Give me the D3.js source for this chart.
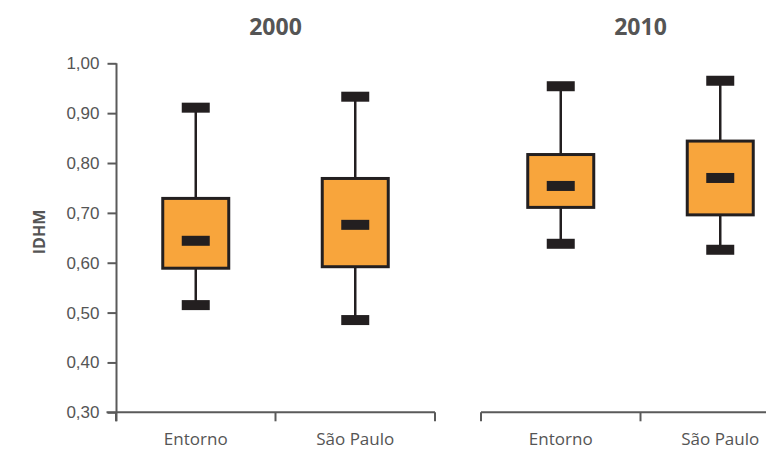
<!DOCTYPE html>
<html>
<head>
<meta charset="utf-8">
<script src="https://cdn.jsdelivr.net/npm/d3@7"></script>
<style>
  html, body { margin: 0; padding: 0; background: #fff; }
  svg { display: block; font-family: "Open Sans", "Noto Sans", sans-serif; }
</style>
</head>
<body>
<svg id="chart" width="766" height="450"></svg>
<script>
// IDHM distribution by area, 2000 and 2010
const years = ["2000", "2010"];
const categories = ["Entorno", "São Paulo"];
const lowWhisker  = [[0.515, 0.485], [0.638, 0.626]];
const q1          = [[0.589, 0.592], [0.711, 0.696]];
const median      = [[0.644, 0.676], [0.754, 0.770]];
const q3          = [[0.729, 0.769], [0.817, 0.844]];
const highWhisker = [[0.911, 0.933], [0.954, 0.965]];
const yTicks = [0.30, 0.40, 0.50, 0.60, 0.70, 0.80, 0.90, 1.00];

const svg = d3.select("#chart");
const axisColor = "#5a5a5a";
const textColor = "#555";
const ink = "#231f20";
const boxFill = "#f8a53c";

const y = d3.scaleLinear().domain([0.30, 1.00]).range([412.3, 63.3]);
const panelRanges = [[116, 435], [481, 800]];
const boxW = 66, capW = 28, capH = 10;

const fmt = d => d3.format(".2f")(d).replace(".", ",");

// Y axis (left panel only)
const yAxis = svg.append("g").attr("transform", "translate(116.5,0)")
  .call(d3.axisLeft(y).tickValues(yTicks).tickFormat(fmt).tickSize(9).tickPadding(8));
yAxis.select(".domain").attr("stroke", axisColor).attr("stroke-width", 2)
  .attr("d", `M0,${y(1)}V${y(0.30) + 9}`);
yAxis.selectAll(".tick line").attr("stroke", axisColor).attr("stroke-width", 2);
yAxis.selectAll(".tick text").attr("fill", textColor).style("font-size", "17px");

svg.append("text")
  .attr("transform", `translate(38.7,232) rotate(-90)`)
  .attr("text-anchor", "middle")
  .attr("dominant-baseline", "central")
  .attr("fill", textColor)
  .style("font-size", "16px").style("font-weight", "bold")
  .text("IDHM");

years.forEach((yr, p) => {
  const [x0, x1] = panelRanges[p];
  const x = d3.scaleBand().domain(categories).range([x0, x1]);

  // X axis with outer ticks at band edges
  const g = svg.append("g").attr("transform", `translate(0,${y(0.30)})`);
  const left = p === 0 ? x0 - 9.5 : x0;
  g.append("path").attr("d", `M${left},0H${x1}`)
    .attr("stroke", axisColor).attr("stroke-width", 2).attr("fill", "none");
  const edges = [x0, ...categories.map(c => x(c) + x.bandwidth())];
  g.selectAll("line.edge").data(edges).join("line")
    .attr("x1", d => d).attr("x2", d => d)
    .attr("y1", 0).attr("y2", 9)
    .attr("stroke", axisColor).attr("stroke-width", 2);
  g.selectAll("text").data(categories).join("text")
    .attr("x", d => x(d) + x.bandwidth() / 2)
    .attr("y", 32.7)
    .attr("text-anchor", "middle")
    .attr("fill", textColor)
    .style("font-size", "17px")
    .text(d => d);

  // Panel title
  svg.append("text")
    .attr("x", (x0 + x1) / 2).attr("y", 35)
    .attr("text-anchor", "middle")
    .attr("fill", textColor)
    .style("font-size", "23px").style("font-weight", "bold")
    .text(yr);

  // Boxes
  categories.forEach((c, i) => {
    const cx = x(c) + x.bandwidth() / 2;
    const bg = svg.append("g");
    bg.append("line")
      .attr("x1", cx).attr("x2", cx)
      .attr("y1", y(highWhisker[p][i])).attr("y2", y(lowWhisker[p][i]))
      .attr("stroke", ink).attr("stroke-width", 2.5);
    bg.append("rect")
      .attr("x", cx - boxW / 2).attr("width", boxW)
      .attr("y", y(q3[p][i])).attr("height", y(q1[p][i]) - y(q3[p][i]))
      .attr("fill", boxFill).attr("stroke", ink).attr("stroke-width", 3);
    [highWhisker[p][i], median[p][i], lowWhisker[p][i]].forEach(v => {
      bg.append("rect")
        .attr("x", cx - capW / 2).attr("width", capW)
        .attr("y", y(v) - capH / 2).attr("height", capH)
        .attr("fill", ink);
    });
  });
});
</script>
</body>
</html>
